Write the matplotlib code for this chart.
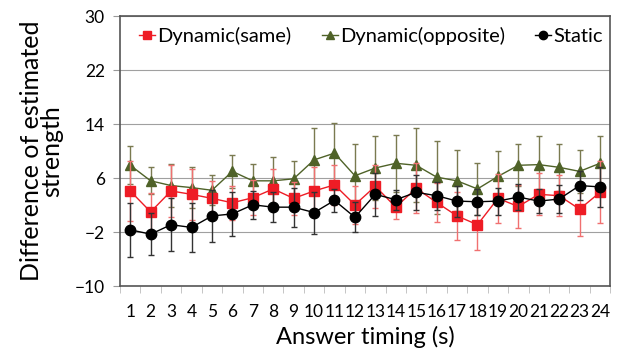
import matplotlib
matplotlib.use("Agg")
import matplotlib.pyplot as plt
from matplotlib.lines import Line2D
import numpy as np

timing = list(range(1, 25))
dyn_same = [4.1, 1.0, 4.1, 3.6, 3.0, 2.35, 3.1, 4.4, 3.0, 4.1, 5.0, 2.05,
            4.8, 1.7, 4.5, 2.4, 0.4, -0.9, 3.0, 1.8, 3.6, 3.4, 1.4, 3.9]
dyn_same_err = [4.4, 2.8, 3.9, 3.8, 2.6, 2.5, 2.6, 3.0, 2.5, 3.5, 3.0, 2.8,
                3.2, 1.7, 3.7, 2.9, 3.5, 3.75, 3.6, 3.2, 3.1, 3.0, 4.0, 4.6]
dyn_opp = [7.9, 5.6, 4.9, 4.6, 4.2, 7.0, 5.6, 5.6, 5.9, 8.7, 9.7, 6.35,
           7.5, 8.2, 7.9, 6.15, 5.6, 4.4, 6.25, 7.9, 8.0, 7.6, 7.0, 8.2]
dyn_opp_err = [2.8, 2.0, 3.2, 3.0, 2.2, 2.4, 2.5, 3.6, 2.7, 4.7, 4.4, 4.65,
               4.7, 4.2, 5.5, 5.4, 4.5, 3.8, 3.7, 3.1, 4.3, 3.5, 3.2, 4.0]
static = [-1.65, -2.3, -0.9, -1.3, 0.4, 0.7, 2.05, 1.7, 1.7, 0.9, 2.7, 0.2,
          3.6, 2.8, 3.9, 3.4, 2.6, 2.5, 2.6, 3.2, 2.6, 2.9, 4.9, 4.7]
static_err = [4.0, 3.1, 3.95, 3.6, 3.85, 3.2, 2.1, 2.2, 2.9, 3.1, 1.7, 2.2,
              3.2, 1.5, 2.6, 2.1, 2.3, 1.9, 2.0, 1.9, 1.8, 2.1, 2.1, 3.0]
y_ticks = [-10, -2, 6, 14, 22, 30]

plt.rcParams['font.family'] = ['Lato', 'DejaVu Sans']

fig = plt.figure(figsize=(6.35, 3.49), dpi=100)
ax = fig.add_axes([0.189, 0.18, 0.772, 0.774])

red = '#ee1c25'
green = '#4f6228'
black = '#000000'

series = [
    (dyn_same, dyn_same_err, red, '#f07070', 's', 'Dynamic(same)', 3),
    (dyn_opp, dyn_opp_err, green, '#7a7a50', '^', 'Dynamic(opposite)', 2),
    (static, static_err, black, '#333333', 'o', 'Static', 4),
]
handles = []
for vals, errs, c, ec, m, lab, z in series:
    ax.errorbar(timing, vals, yerr=errs, color=c, ecolor=ec,
                marker=m, markersize=7.5, lw=1, elinewidth=1, capsize=2.5,
                capthick=1, zorder=z)
    handles.append(Line2D([], [], color=c, marker=m, markersize=6, lw=1))

ax.set_xlim(0.5, 24.5)
ax.set_ylim(-10, 30)
ax.set_yticks(y_ticks)
ax.set_xticks(timing)
ax.set_xticklabels([str(t) for t in timing])
ax.set_xticks(np.arange(0.5, 25, 1), minor=True)
ax.tick_params(axis='x', which='major', length=0, labelsize=12.5, pad=13)
ax.tick_params(axis='x', which='minor', length=5, color='#bbbbbb', direction='out')
ax.tick_params(axis='y', length=5, color='#999999', labelsize=12.5, pad=6)
ax.yaxis.grid(True, color='#a0a0a0', lw=0.8)
ax.set_axisbelow(True)
for s in ax.spines.values():
    s.set_color('#555555')
    s.set_linewidth(1.2)

ax.set_ylabel('Difference of estimated\nstrength', fontsize=18, linespacing=0.85, labelpad=8)
ax.set_xlabel('Answer timing (s)', fontsize=17, labelpad=4)

ax.legend(handles, ['Dynamic(same)', 'Dynamic(opposite)', 'Static'],
          loc='upper center', ncol=3, frameon=False, fontsize=14.5,
          handlelength=0.8, handletextpad=0.1, columnspacing=1.5,
          bbox_to_anchor=(0.512, 1.025))

fig.savefig('out.png', dpi=100)
